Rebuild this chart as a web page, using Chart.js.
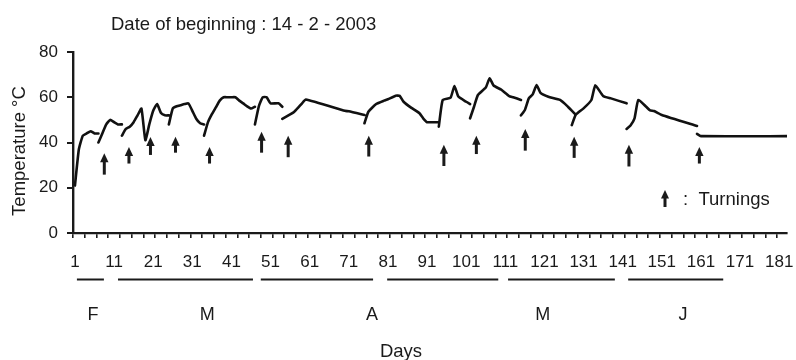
<!DOCTYPE html>
<html><head><meta charset="utf-8">
<script src="https://cdn.jsdelivr.net/npm/chart.js@4"></script>
<style>html,body{margin:0;padding:0;background:#fff}</style>
</head><body>
<canvas id="c" width="796" height="360"></canvas>
<script>
// ---- texts ----
const titleText = 'Date of beginning : 14 - 2 - 2003';
const yTitleText = 'Temperature °C';
const xTitleText = 'Days';
const legendText = ':  Turnings';

// ---- axis ticks ----
const yTickStep = 20;
const xLabelDays = [1, 11, 21, 31, 41, 51, 61, 71, 81, 91, 101, 111, 121, 131, 141, 151, 161, 171, 181];
const xMarkDays = Array.from({length: 61}, (_, k) => 0.5 + 3 * k);

// ---- temperature series (null = break in the curve) ----
const days = [
  1, 2, 3, 4, 5, 6, 7, 7,
  7, 8, 9, 10, 11, 12, 13, 13,
  13, 14, 15, 16, 17, 18, 19, 20, 21, 22, 23, 24, 25, 25,
  25, 26, 27, 28, 29, 30, 31, 32, 33, 34, 34,
  34, 35, 36, 37, 38, 39, 40, 41, 42, 43, 44, 45, 46, 47, 47,
  47, 48, 49, 50, 51, 53, 54, 54,
  54, 56, 57, 58, 59, 60, 70, 71, 75, 75,
  75, 76, 78, 80, 81, 83, 84, 85, 87, 89, 90, 91, 94, 94,
  94, 95, 97, 98, 99, 101, 102, 102,
  102, 103, 104, 106, 107, 108, 110, 112, 113, 115, 115,
  115, 116, 117, 118, 119, 120, 122, 125, 127, 129, 129,
  128, 129, 131, 133, 134, 136, 138, 142, 142,
  142, 143, 144, 145, 147, 148, 149, 151, 160, 160,
  160, 161, 183
];
const temps = [
  21, 37, 43, 44, 45, 44, 44, null,
  40, 44, 48, 50, 49, 48, 48, null,
  43, 46, 47, 49, 52, 55, 41, 48, 54, 57, 53, 52, 52, null,
  48, 55, 56, 56.5, 57, 57.3, 54, 50.5, 48.5, 48, null,
  43, 49, 52.5, 55.5, 58.5, 60, 60, 60, 60, 58.5, 57.3, 56, 55, 55.8, null,
  48, 56, 60, 60, 57.3, 57.3, 55.8, null,
  50.4, 52.4, 53.5, 55.3, 57.2, 59, 54, 53.8, 52.2, null,
  48.5, 53.6, 57, 58.5, 59.1, 60.7, 60.6, 58, 55.3, 53, 50.7, 49, 49, null,
  47, 58.8, 59.8, 65, 60.3, 58, 57, null,
  50.7, 55.8, 61, 64.3, 68.4, 65.2, 63.3, 60.5, 60, 58.8, null,
  52, 54.4, 59.5, 61.3, 65.4, 61.9, 60.2, 58.8, 55.8, 52.3, null,
  47.7, 52.3, 55.1, 58.8, 65.3, 60.6, 59.5, 57.3, null,
  46, 47.5, 50.5, 58.8, 55.8, 54.2, 53.9, 52.2, 47.3, null,
  43.8, 42.8, 42.8
];

// ---- turnings (arrows): day, tip temperature, base temperature ----
const turnDays  = [8.5, 14.8, 20.3, 26.7, 35.4, 48.7, 55.5, 76.1, 95.3, 103.6, 116.1, 128.6, 142.6, 160.6];
const turnTips  = [35.3, 38, 42.4, 42.5, 38, 44.7, 43, 43, 39, 43, 46, 42.5, 39, 38];
const turnBases = [25.8, 30.7, 34.5, 35.5, 30.7, 35.5, 33.5, 33.8, 29.6, 34.9, 36.4, 33.2, 29.4, 30.7];

// ---- month brackets under the day axis ----
const monthLabels = ['F', 'M', 'A', 'M', 'J'];
const monthLabelDays = [5.6, 34.8, 76.9, 120.6, 156.4];
const monthLineStarts = [1.5, 12, 48.5, 80.8, 111.7, 142.4];
const monthLineEnds = [8.4, 46.5, 77.2, 109.2, 139, 166.7];

// ---------------------------------------------------------------
const FONT = '"Liberation Sans", Arial, Helvetica, sans-serif';
const INK = '#1a1a1a';

const points = days.map((d, i) => ({x: d, y: temps[i]}));
const allXTicks = Array.from(new Set([...xMarkDays, ...xLabelDays])).sort((a, b) => a - b);

function drawArrow(ctx, x, yTip, yBase, headH, headW, lw) {
  ctx.save();
  ctx.strokeStyle = INK; ctx.fillStyle = INK; ctx.lineWidth = lw; ctx.lineCap = 'butt';
  ctx.beginPath(); ctx.moveTo(x, yBase); ctx.lineTo(x, yTip + headH - 1); ctx.stroke();
  ctx.beginPath(); ctx.moveTo(x, yTip); ctx.lineTo(x - headW, yTip + headH); ctx.lineTo(x + headW, yTip + headH); ctx.closePath(); ctx.fill();
  ctx.restore();
}

const decor = {
  id: 'decor',
  afterDatasetsDraw(chart) {
    const ctx = chart.ctx, xs = chart.scales.x, ys = chart.scales.y;
    turnDays.forEach((d, i) => {
      drawArrow(ctx, xs.getPixelForValue(d), ys.getPixelForValue(turnTips[i]), ys.getPixelForValue(turnBases[i]), 9, 4.2, 3);
    });
  },
  afterDraw(chart) {
    const ctx = chart.ctx, xs = chart.scales.x, area = chart.chartArea;
    ctx.save();
    ctx.fillStyle = INK; ctx.strokeStyle = INK;
    // title
    ctx.font = '18.5px ' + FONT; ctx.textAlign = 'left'; ctx.textBaseline = 'alphabetic';
    ctx.fillText(titleText, 111, 30);
    // legend
    drawArrow(ctx, 665, 190, 207, 8.5, 4, 3);
    ctx.textBaseline = 'middle';
    ctx.fillText(legendText, 683, 200);
    // y title
    ctx.save(); ctx.translate(20, 151); ctx.rotate(-Math.PI / 2);
    ctx.textAlign = 'center'; ctx.textBaseline = 'middle';
    ctx.fillText(yTitleText, 0, 0); ctx.restore();
    // month bracket lines
    ctx.lineWidth = 2;
    const lineY = area.bottom + 46.5;
    monthLineStarts.forEach((s, i) => {
      ctx.beginPath(); ctx.moveTo(xs.getPixelForValue(s), lineY); ctx.lineTo(xs.getPixelForValue(monthLineEnds[i]), lineY); ctx.stroke();
    });
    // month labels
    ctx.font = '18px ' + FONT; ctx.textAlign = 'center'; ctx.textBaseline = 'alphabetic';
    monthLabels.forEach((m, i) => ctx.fillText(m, xs.getPixelForValue(monthLabelDays[i]), area.bottom + 86.5));
    // x title
    ctx.font = '18.5px ' + FONT;
    ctx.fillText(xTitleText, 401, 357);
    ctx.restore();
  }
};

new Chart(document.getElementById('c'), {
  type: 'line',
  data: {
    datasets: [{
      data: points,
      borderColor: '#111',
      borderWidth: 2.6,
      pointRadius: 0,
      tension: 0.15,
      spanGaps: false,
      borderCapStyle: 'round',
      borderJoinStyle: 'round',
      fill: false
    }]
  },
  options: {
    responsive: false,
    animation: false,
    devicePixelRatio: 1,
    layout: {padding: {top: 52, right: 9, left: 0, bottom: 0}},
    plugins: {legend: {display: false}, tooltip: {enabled: false}, title: {display: false}},
    scales: {
      x: {
        type: 'linear', min: 0.5, max: 183,
        afterBuildTicks: s => { s.ticks = allXTicks.map(v => ({value: v})); },
        afterFit: s => { s.height = 127; s.paddingLeft = 0; s.paddingRight = 0; },
        ticks: {
          autoSkip: false, maxRotation: 0, minRotation: 0, padding: 14, color: INK,
          font: {family: FONT, size: 17},
          callback: v => xLabelDays.includes(v) ? String(v) : ''
        },
        grid: {
          drawOnChartArea: false, drawTicks: true, tickLength: 5, lineWidth: 1.6,
          color: c => (c.tick && xMarkDays.includes(c.tick.value)) ? INK : 'rgba(0,0,0,0)'
        },
        border: {display: true, color: INK, width: 2.2}
      },
      y: {
        min: 0, max: 80,
        afterFit: s => { s.width = 73; },
        ticks: {stepSize: yTickStep, padding: 9, color: INK, font: {family: FONT, size: 17}},
        grid: {drawOnChartArea: false, drawTicks: true, tickLength: 6, lineWidth: 2, color: INK},
        border: {display: true, color: INK, width: 2.4}
      }
    }
  },
  plugins: [decor]
});
</script>
</body></html>
